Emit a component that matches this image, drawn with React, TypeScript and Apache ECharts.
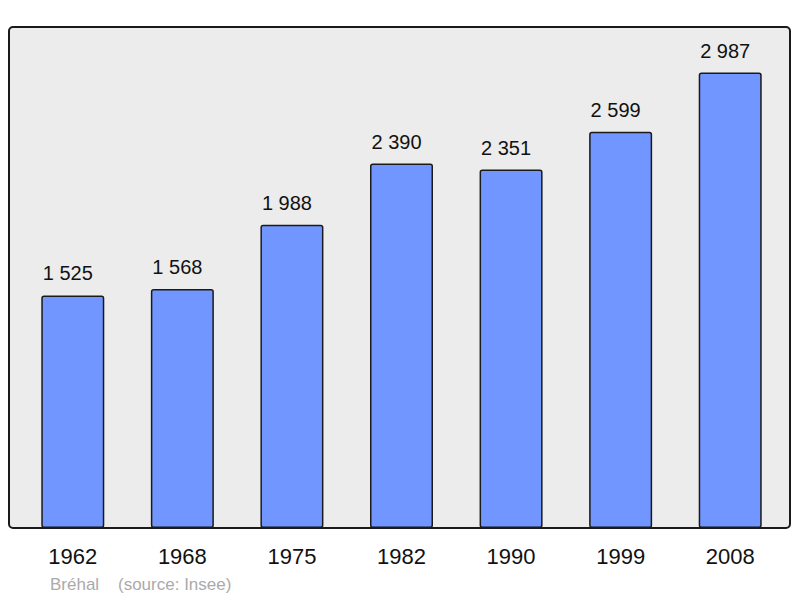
import React, { useEffect, useRef } from "react";
import * as echarts from "echarts";

const years: string[] = ["1962", "1968", "1975", "1982", "1990", "1999", "2008"];
const population: number[] = [1525, 1568, 1988, 2390, 2351, 2599, 2987];
const townName = "Bréhal";
const sourceText = "(source: Insee)";

const FONT = "'Liberation Sans', Arial, sans-serif";

function fmt(v: number): string {
  return String(v).replace(/\B(?=(\d{3})+(?!\d))/g, " ");
}

export default function App() {
  const ref = useRef<HTMLDivElement>(null);
  useEffect(() => {
    if (!ref.current) return;
    const chart = echarts.init(ref.current, undefined, { renderer: "svg" });
    const yMax = Math.max(...population) * 1.1;
    chart.setOption({
      animation: false,
      backgroundColor: "#ffffff",
      grid: { left: 18, right: 15, top: 27, bottom: 70 },
      xAxis: {
        type: "category",
        data: years,
        axisLine: { show: false },
        axisTick: { show: false },
        axisLabel: {
          color: "#111111",
          fontSize: 22,
          fontFamily: FONT,
          margin: 17,
        },
      },
      yAxis: {
        type: "value",
        min: 0,
        max: yMax,
        show: false,
        splitLine: { show: false },
      },
      graphic: [
        {
          type: "rect",
          z: -10,
          shape: { x: 9, y: 27, width: 781, height: 501, r: 4 },
          style: { fill: "#ececec", stroke: "none" },
          silent: true,
        },
        {
          type: "rect",
          z: 100,
          shape: { x: 9, y: 27, width: 781, height: 501, r: 4 },
          style: { fill: "none", stroke: "#1a1a1a", lineWidth: 2 },
          silent: true,
        },
        {
          type: "text",
          x: 50,
          y: 584,
          style: {
            text: townName,
            fill: "#aaaaaa",
            fontSize: 17,
            fontFamily: FONT,
            verticalAlign: "middle",
          },
        },
        {
          type: "text",
          x: 118,
          y: 584,
          style: {
            text: sourceText,
            fill: "#aaaaaa",
            fontSize: 17,
            fontFamily: FONT,
            verticalAlign: "middle",
          },
        },
      ],
      series: [
        {
          type: "bar",
          data: population,
          barWidth: 63,
          itemStyle: {
            color: "#7196ff",
            borderColor: "#1a1a1a",
            borderWidth: 1.5,
            borderRadius: 2,
          },
          label: {
            show: true,
            position: "top",
            distance: 12,
            offset: [-5, 0],
            color: "#111111",
            fontSize: 20,
            fontFamily: FONT,
            formatter: (p: any) => fmt(p.value),
          },
        },
      ],
    });
    return () => chart.dispose();
  }, []);
  return <div ref={ref} style={{ width: 800, height: 598, position: "absolute", left: 0, top: 0 }} />;
}
